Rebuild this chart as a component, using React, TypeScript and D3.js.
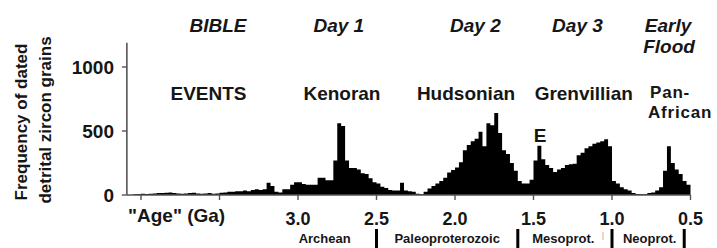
import React from "react";
import * as d3 from "d3";

// Histogram of detrital zircon ages, bins of 0.025 Ga starting at 4.05 Ga (older -> younger)
const binStart = 4.05;
const binWidth = 0.025;
const counts = [
  5, 8, 10, 8, 10, 12, 15, 15, 18, 20, 15, 12, 10, 12, 15, 18, 12, 10, 12, 15, 10, 12, 18, 20, 25, 25, 30, 30,
  35, 30, 40, 45, 40, 45, 95, 70, 25, 20, 45, 45, 80, 100,
  100, 85, 80, 80, 80, 135, 135, 115, 115, 270, 560, 540,
  270, 210, 210, 200, 170, 165, 130, 100, 90, 65, 55, 40, 35, 35,
  95, 35, 30, 25, 10, 5, 25, 50, 70, 90, 110, 135, 175, 195,
  215, 255, 350, 390, 420, 440, 495, 380, 560, 545, 640, 485,
  350, 320, 250, 190, 110, 90, 90, 120, 270, 385, 280, 235, 210, 180,
  200, 210, 235, 240, 245, 310, 330, 365, 380, 400, 410, 420, 435, 380,
  110, 90, 60, 45, 35, 15, 8, 5, 5, 15, 20, 35, 60, 190, 380, 250, 200, 165, 110, 80,
];

const xTicks = [4.0, 3.5, 3.0, 2.5, 2.0, 1.5, 1.0, 0.5];
const xTickLabels = ["", "", "3.0", "2.5", "2.0", "1.5", "1.0", "0.5"];
const yTicks = [0, 500, 1000];

const bibleLabels = ["BIBLE", "Day 1", "Day 2", "Day 3"];
const bibleAges = [3.51, 2.74, 1.87, 1.22];
const eventLabels = ["EVENTS", "Kenoran", "Hudsonian", "Grenvillian"];
const eventAges = [3.57, 2.72, 1.93, 1.18];
const eraLabels = ["Archean", "Paleoproterozoic", "Mesoprot.", "Neoprot."];
const eraAges = [2.83, 2.05, 1.31, 0.76];
const eraBoundaries = [2.5, 1.6, 1.0, 0.54];

const FONT = "'Liberation Sans', Arial, sans-serif";
const INK = "#161616";

export default function App() {
  const x = d3.scaleLinear().domain([3.0, 0.5]).range([298, 690.5]);
  const y = d3.scaleLinear().domain([0, 1000]).range([195, 67]);

  const pts: [number, number][] = counts.map((c, i) => [binStart - i * binWidth, c]);
  pts.push([binStart - counts.length * binWidth, counts[counts.length - 1]]);

  const area = d3
    .area<[number, number]>()
    .x((d) => x(d[0]))
    .y0(y(0))
    .y1((d) => y(d[1]))
    .curve(d3.curveStepAfter);

  const axisLeft = x(4.09);
  const axisTop = y(1190);

  return (
    <svg width={717} height={248} style={{ position: "absolute", left: 0, top: 0, background: "#fff" }}>
      <rect x={0} y={0} width={717} height={248} fill="#fff" />
      {/* Y label */}
      <g fontFamily={FONT} fontWeight="bold" fontSize={17} fill={INK} textAnchor="middle">
        <text transform={`translate(27,122) rotate(-90)`}>Frequency of dated</text>
        <text transform={`translate(51,120) rotate(-90)`}>detrital zircon grains</text>
      </g>

      {/* histogram */}
      <path d={area(pts) || ""} fill="#000" />

      {/* axes */}
      <line x1={axisLeft} x2={axisLeft} y1={axisTop} y2={y(0)} stroke="#555" strokeWidth={1.6} />
      <line x1={axisLeft} x2={x(0.5)} y1={y(0)} y2={y(0)} stroke="#555" strokeWidth={1.6} />
      {yTicks.map((t) => (
        <g key={"y" + t}>
          <line x1={axisLeft - 5} x2={axisLeft} y1={y(t)} y2={y(t)} stroke="#555" strokeWidth={1.4} />
          <text
            x={114}
            y={y(t) + 6.5}
            textAnchor="end"
            fontFamily={FONT}
            fontWeight="bold"
            fontSize={19}
            fill={INK}
          >
            {t}
          </text>
        </g>
      ))}
      {xTicks.map((t, i) => (
        <g key={"x" + t}>
          <line x1={x(t)} x2={x(t)} y1={y(0)} y2={y(0) + 5} stroke="#555" strokeWidth={1.4} />
          <text x={x(t)} y={225} textAnchor="middle" fontFamily={FONT} fontWeight="bold" fontSize={18} fill={INK}>
            {xTickLabels[i]}
          </text>
        </g>
      ))}
      <text x={128} y={222} fontFamily={FONT} fontWeight="bold" fontSize={19} fill={INK}>
        "Age" (Ga)
      </text>

      {/* Bible labels */}
      <g fontFamily={FONT} fontWeight="bold" fontStyle="italic" fontSize={19} fill={INK} textAnchor="middle">
        {bibleLabels.map((l, i) => (
          <text key={l} x={x(bibleAges[i])} y={32}>
            {l}
          </text>
        ))}
        <text x={668} y={32}>Early</text>
        <text x={669} y={53}>Flood</text>
      </g>

      {/* Event labels */}
      <g fontFamily={FONT} fontWeight="bold" fontSize={19} fill={INK}>
        {eventLabels.map((l, i) => (
          <text key={l} x={x(eventAges[i])} y={100} textAnchor="middle">
            {l}
          </text>
        ))}
        <text x={650} y={98} fontSize={17} letterSpacing={0.8}>Pan-</text>
        <text x={648} y={118} fontSize={17} letterSpacing={0.8}>African</text>
        <text x={540} y={142} textAnchor="middle">E</text>
      </g>

      {/* Eras */}
      <g fontFamily={FONT} fontWeight="bold" fontSize={13} fill={INK} textAnchor="middle">
        {eraLabels.map((l, i) => (
          <text key={l} x={x(eraAges[i])} y={243}>
            {l}
          </text>
        ))}
      </g>
      {eraBoundaries.map((b) => (
        <rect key={"b" + b} x={x(b) - 1.5} y={229} width={3} height={19} fill="#000" />
      ))}
      <line x1={603} x2={603} y1={232} y2={240} stroke="#e3b070" strokeWidth={1} />
    </svg>
  );
}
